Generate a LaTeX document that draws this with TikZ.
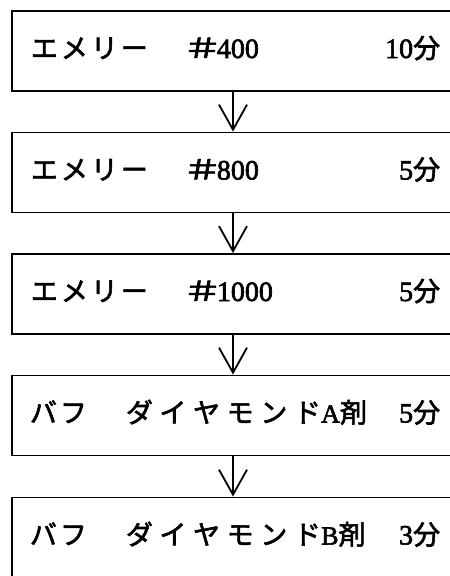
\documentclass[tikz,border=0pt]{standalone}
\usepackage{fontspec}
\setmainfont{Liberation Serif}
\newfontfamily\jp[FakeBold=2.2]{Noto Sans CJK JP}
\newfontfamily\dg[FakeBold=2.2]{Liberation Serif}
\usetikzlibrary{arrows.meta}
\makeatletter
\newcommand\pitched[2]{\@tfor\pchar:=#2\do{\makebox[#1][c]{\pchar}}}
\makeatother
\newcommand\hashmark{\makebox[25pt][c]{\scalebox{1.45}[1]{\jp\fontsize{27}{27}\selectfont ＃}}\hspace{2pt}}
\newcommand\fun{{\jp\fontsize{27}{27}\selectfont 分}}
\begin{document}
\begin{tikzpicture}[x=1pt,y=-1pt,line width=1.8pt,
  box/.style={draw, rectangle, anchor=north west, minimum width=470pt, minimum height=80pt, inner sep=0pt},
  kn/.style={anchor=base west, inner sep=0pt, font=\jp\fontsize{27}{27}\selectfont},
  num/.style={anchor=base east, inner sep=0pt, font=\dg\fontsize{28}{28}\selectfont},
  hash/.style={anchor=base west, inner sep=0pt, font=\dg\fontsize{28}{28}\selectfont},
  arr/.style={-{Straight Barb[length=25pt,width=28pt]}}]
\useasboundingbox (0,0) rectangle (450,576);
\clip (0,0) rectangle (450,576);
\node[box] (b1) at (11,10) {};
\node[box] (b2) at (11,131.5) {};
\node[box] (b3) at (11,253) {};
\node[box] (b4) at (11,374.5) {};
\node[box, minimum height=110pt] (b5) at (11,496.5) {};
\coordinate (ax) at (233,0);
\draw[arr] (b1.south -| ax) -- (b2.north -| ax);
\draw[arr] (b2.south -| ax) -- (b3.north -| ax);
\draw[arr] (b3.south -| ax) -- (b4.north -| ax);
\draw[arr] (b4.south -| ax) -- (b5.north -| ax);
% box 1
\node[kn] (t1a) at (28.5,58) {\pitched{30pt}{エメリー}};
\node[hash] (t1b) at (189,58) {\hashmark 400};
\node[num] (t1c) at (441,58) {10\fun};
% box 2
\node[kn] (t2a) at (28.5,179.5) {\pitched{30pt}{エメリー}};
\node[hash] (t2b) at (189,179.5) {\hashmark 800};
\node[num] (t2c) at (441,179.5) {5\fun};
% box 3
\node[kn] (t3a) at (28.5,301) {\pitched{30pt}{エメリー}};
\node[hash] (t3b) at (189,301) {\hashmark 1000};
\node[num] (t3c) at (441,301) {5\fun};
% box 4
\node[kn] (t4a) at (27.5,422.5) {\pitched{30pt}{バフ}};
\node[kn] (t4b) at (121.7,422.5) {\pitched{33.6pt}{ダイヤモンド}\hspace{-3pt}{\dg\fontsize{26}{26}\selectfont A}剤};
\node[num] (t4c) at (441,422.5) {5\fun};
% box 5
\node[kn] (t5a) at (27.5,544.5) {\pitched{30pt}{バフ}};
\node[kn] (t5b) at (121.7,544.5) {\pitched{33.6pt}{ダイヤモンド}\hspace{-3pt}{\dg\fontsize{26}{26}\selectfont B}剤};
\node[num] (t5c) at (441,544.5) {3\fun};
\end{tikzpicture}
\end{document}
